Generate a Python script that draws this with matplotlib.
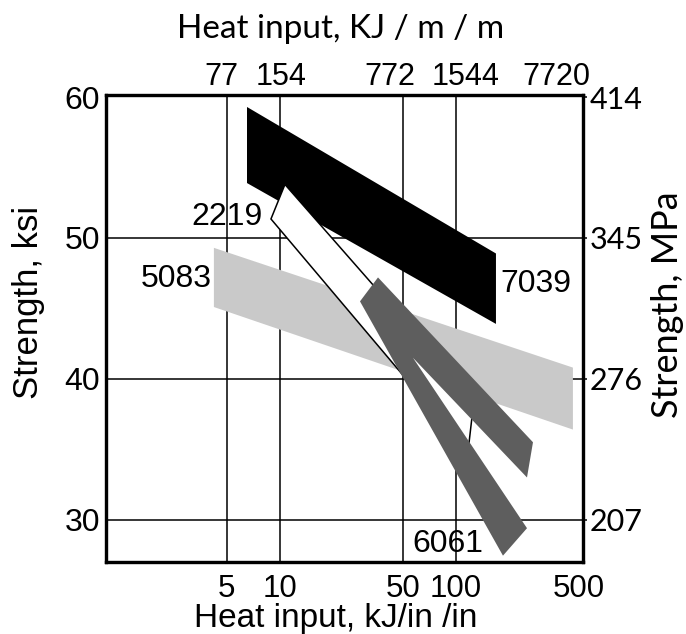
import matplotlib
matplotlib.use('Agg')
import matplotlib.pyplot as plt
from matplotlib.patches import Polygon
from matplotlib.ticker import FixedLocator, FixedFormatter, NullLocator

# ---------------- data ----------------
heat_kJin_ticks = [5, 10, 50, 100, 500]
heat_kJin_labels = ['5', '10', '50', '100', '500']
heat_kJm_labels = ['77', '154', '772', '1544', '7720']
ksi_ticks = [30, 40, 50, 60]
ksi_labels = ['30', '40', '50', '60']
mpa_labels = ['207', '276', '345', '414']
grid_x = [5, 10, 50, 100]
grid_y = [30, 40, 50]

# bands (heat input kJ/in, strength ksi)
alloy_7039_x = [6.51, 6.51, 169.7, 169.7]
alloy_7039_y = [59.3, 53.9, 43.9, 48.9]
alloy_5083_x = [4.22, 4.22, 465.0, 465.0]
alloy_5083_y = [49.3, 45.1, 36.4, 40.8]
alloy_2219_x = [10.7, 8.91, 117.6, 127.2]
alloy_2219_y = [53.8, 51.35, 34.8, 38.5]
alloy_6061_x = [36.2, 275.6, 254.8, 57.2, 254.8, 186.0, 28.6]
alloy_6061_y = [47.2, 35.5, 33.0, 41.5, 29.4, 27.45, 45.5]

labels_text = ['2219', '5083', '7039', '6061']
labels_x = [8.03, 4.11, 178.9, 56.5]
labels_y = [50.92, 46.52, 46.17, 27.73]
labels_ha = ['right', 'right', 'left', 'left']

# ---------------- figure ----------------
W, H, DPI = 686, 634, 100
fig = plt.figure(figsize=(W / DPI, H / DPI), dpi=DPI)
L, R, T, B = 106, 583, 95, 562
ax = fig.add_axes([L / W, 1 - B / H, (R - L) / W, (B - T) / H])

ax.set_xscale('log')
ax.set_xlim(1.027, 530.6)
ax.set_ylim(27.0, 60.15)

ARIAL = ['Liberation Sans', 'DejaVu Sans']
NARROW = ['Liberation Sans Narrow', 'Liberation Sans', 'DejaVu Sans']
CALIBRI = ['Lato', 'DejaVu Sans']

for gx in grid_x:
    ax.axvline(gx, color='black', lw=1.1, zorder=0.5)
for gy in grid_y:
    ax.axhline(gy, color='black', lw=1.1, zorder=0.5)

def band(xs, ys, **kw):
    ax.add_patch(Polygon(list(zip(xs, ys)), closed=True, **kw))

band(alloy_7039_x, alloy_7039_y, facecolor='black', edgecolor='none', zorder=1)
band(alloy_5083_x, alloy_5083_y, facecolor='#c9c9c9', edgecolor='none', zorder=2)
band(alloy_2219_x, alloy_2219_y, facecolor='white', edgecolor='black', lw=1.1, zorder=3)
band(alloy_6061_x, alloy_6061_y, facecolor='#5e5e5e', edgecolor='none', zorder=4)

for t, x, y, ha in zip(labels_text, labels_x, labels_y, labels_ha):
    ax.text(x, y, t, ha=ha, va='baseline', fontsize=23, family=ARIAL, zorder=5)

# bottom / left axes
ax.xaxis.set_major_locator(FixedLocator(heat_kJin_ticks))
ax.xaxis.set_major_formatter(FixedFormatter(heat_kJin_labels))
ax.xaxis.set_minor_locator(NullLocator())
ax.yaxis.set_major_locator(FixedLocator(ksi_ticks))
ax.yaxis.set_major_formatter(FixedFormatter(ksi_labels))
ax.tick_params(axis='x', length=0, pad=8.5, labelsize=22.5)
ax.tick_params(axis='y', length=0, pad=4.3, labelsize=23)
for lab in ax.get_xticklabels() + ax.get_yticklabels():
    lab.set_family(ARIAL)

for sp in ax.spines.values():
    sp.set_linewidth(2.3)

# top axis (KJ/m): labels placed above each heat-input gridline
top_offsets_px = [-5, 1, -13, 10, -22]
for xv, lab, dx in zip(heat_kJin_ticks, heat_kJm_labels, top_offsets_px):
    ax.annotate(lab, xy=(xv, 1.0), xycoords=('data', 'axes fraction'),
                xytext=(dx * 72 / DPI, 10 * 72 / DPI), textcoords='offset points',
                ha='center', va='baseline', fontsize=22, family=NARROW,
                annotation_clip=False)

# right axis (MPa)
axr = ax.twinx()
axr.set_ylim(ax.get_ylim())
axr.yaxis.set_major_locator(FixedLocator(ksi_ticks))
axr.yaxis.set_major_formatter(FixedFormatter(mpa_labels))
axr.tick_params(axis='y', length=3, width=1.1, direction='out', pad=1.5, labelsize=22)
for lab in axr.get_yticklabels():
    lab.set_family(CALIBRI)
for sp in axr.spines.values():
    sp.set_linewidth(2.3)

# axis titles
def px(x, y):
    return x / W, 1 - y / H

fig.text(*px(335.5, 627), 'Heat input, kJ/in /in', ha='center', va='baseline',
         fontsize=24, family=ARIAL)
fig.text(*px(29, 302), 'Strength, ksi', ha='center', va='center', rotation=90,
         fontsize=25, family=ARIAL)
fig.text(*px(341, 38), 'Heat input, KJ / m / m', ha='center', va='baseline',
         fontsize=24, family=CALIBRI)
fig.text(*px(668, 305), 'Strength, MPa', ha='center', va='center', rotation=90,
         fontsize=26, family=CALIBRI)

fig.savefig('out.png', dpi=DPI)
